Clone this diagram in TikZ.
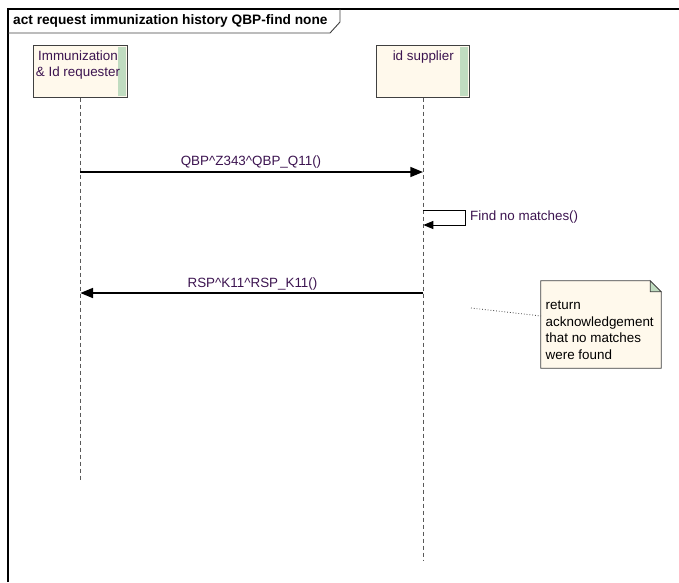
\documentclass[tikz,border=0pt]{standalone}
\usepackage{fontspec}
\setmainfont{Liberation Sans}
\usetikzlibrary{arrows.meta,calc}
\definecolor{txt}{RGB}{60,20,80}
\definecolor{cream}{RGB}{255,249,236}
\definecolor{barg}{RGB}{192,220,192}
\definecolor{edge}{RGB}{64,64,64}
\begin{document}
\begin{tikzpicture}[x=1pt,y=-1pt,
  headbox/.style={draw=edge, line width=1pt, fill=cream, minimum width=94pt, minimum height=52pt, inner sep=0pt},
  lbl/.style={text=txt, font=\fontsize{13.4}{16.7}\selectfont, inner sep=0pt},
  life/.style={draw=black!65, dash pattern=on 4pt off 3pt, line width=0.9pt},
  msg/.style={line width=2.9pt, -{Triangle[length=13pt,width=9.5pt]}},
  selfmsg/.style={line width=1pt, -{Triangle[length=10pt,width=8pt]}},
  frameline/.style={line width=1.6pt, draw=black}
]
\useasboundingbox (0,0) rectangle (679,582);
% frame
\draw[frameline] (8,582) -- (8,9) -- (679,9);
\draw[line width=0.9pt, draw=edge] (8,33) -- (330,33) -- (340,22) -- (340,9);
\node[anchor=west, inner sep=0pt, font=\bfseries\fontsize{13.7}{16}\selectfont] (title) at (13,21) {act request immunization history QBP-find none};
% lifeline heads
\node[headbox] (h1) at (80,71) {};
\node[headbox, minimum width=93pt] (h2) at (423.3,71) {};
\fill[barg] ($(h1.north east)+(-10,2)$) rectangle ($(h1.south east)+(-2,-2)$);
\fill[barg] ($(h2.north east)+(-10,2)$) rectangle ($(h2.south east)+(-2,-2)$);
\node[lbl, align=center] (t1) at (78,65) {Immunization\\\& Id requester};
\node[lbl] (t2) at (423.3,57) {id supplier};
% lifelines
\coordinate (e1) at (80,480);
\coordinate (e2) at (423.3,560);
\draw[life] (h1.south) -- (e1);
\draw[life] (h2.south) -- (e2);
% message 1
\coordinate (m1a) at (80,172);
\coordinate (m1b) at (423.3,172);
\draw[msg] (m1a) -- (m1b);
\node[lbl] (l1) at (251,162) {QBP\textasciicircum Z343\textasciicircum QBP\_Q11()};
% self message
\coordinate (s1) at (423.3,210);
\coordinate (s2) at (465,210);
\coordinate (s3) at (465,225);
\coordinate (s4) at (423.3,225);
\draw[selfmsg] (s1) -- (s2) -- (s3) -- (s4);
\node[lbl, anchor=west] (l2) at (470,217) {Find no matches()};
% message 2
\coordinate (m2a) at (423.3,293);
\coordinate (m2b) at (80,293);
\draw[msg] (m2a) -- (m2b);
\node[lbl] (l3) at (252.5,284) {RSP\textasciicircum K11\textasciicircum RSP\_K11()};
% note
\node[minimum width=120pt, minimum height=87pt, inner sep=0pt] (note) at (601,324.5) {};
\fill[cream] (note.north west) -- ($(note.north east)+(-11,0)$) -- ($(note.north east)+(0,11)$) -- (note.south east) -- (note.south west) -- cycle;
\draw[draw=edge, line width=0.8pt] (note.north west) -- ($(note.north east)+(-11,0)$) -- ($(note.north east)+(0,11)$) -- (note.south east) -- (note.south west) -- cycle;
\filldraw[fill=barg, draw=edge, line width=0.8pt] ($(note.north east)+(-11,0)$) -- ($(note.north east)+(-11,11)$) -- ($(note.north east)+(0,11)$) -- cycle;
\node[lbl, text=black, anchor=north west, align=left] (nt) at (545.5,300.5) {return\\acknowledgement\\that no matches\\were found};
\coordinate (nc) at (471,308);
\coordinate (nw) at (541,316);
\draw[dotted, line width=0.8pt, black!75] (nc) -- (nw);
\end{tikzpicture}
\end{document}
